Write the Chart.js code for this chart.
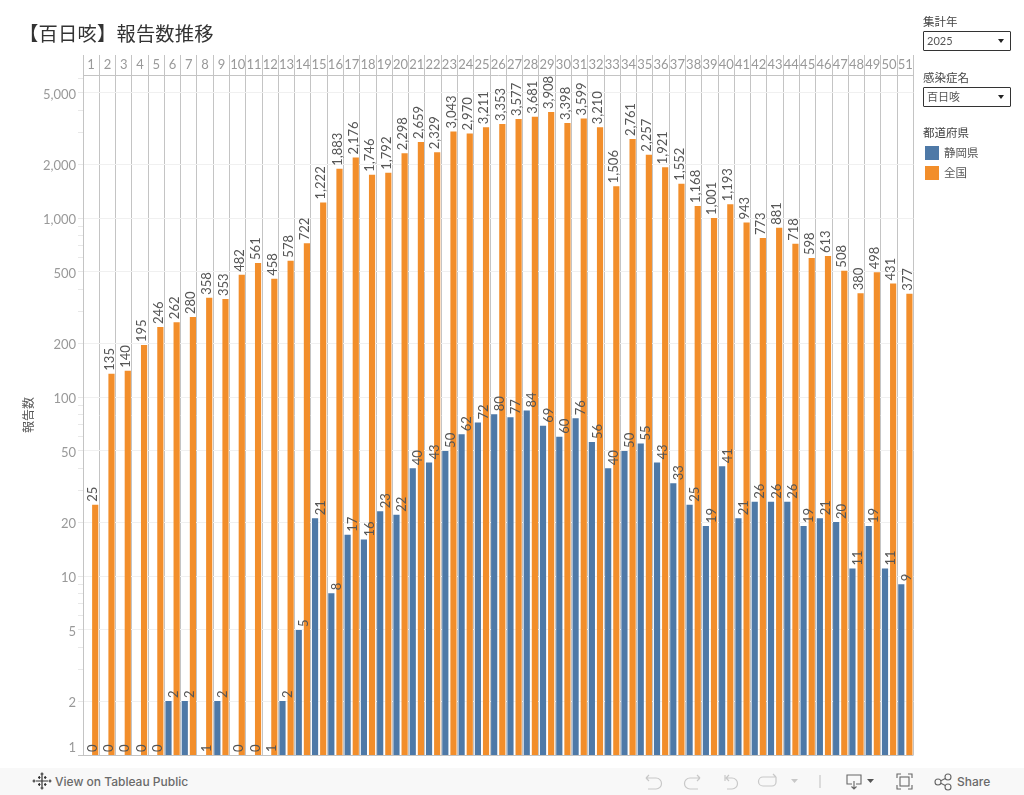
<!DOCTYPE html>
<html lang="ja">
<head>
<meta charset="utf-8">
<title>百日咳 報告数推移</title>
<script src="https://cdn.jsdelivr.net/npm/chart.js@4"></script>
<style>
html, body { margin: 0; padding: 0; background: #fff; }
body { width: 1024px; height: 795px; position: relative; overflow: hidden; font-family: "Lato", "Noto Sans CJK JP", sans-serif; }
#myCanvas { position: absolute; left: 0; top: 0; }
.txt { position: absolute; white-space: nowrap; font-family: "Lato", "Noto Sans CJK JP", sans-serif; }
#title { left: 19px; top: 20px; font-size: 19.3px; line-height: 28px; color: #333; letter-spacing: 0.2px; }
.lbl { left: 923px; font-size: 11.5px; line-height: 14px; color: #444; }
.box { position: absolute; left: 923px; width: 86px; height: 18px; border: 1px solid #333; border-radius: 1px; font-size: 11px; line-height: 18px; color: #555; text-indent: 3px; }
.box i { position: absolute; left: 74px; top: 7px; width: 0; height: 0; border-left: 3px solid transparent; border-right: 3px solid transparent; border-top: 4px solid #222; }
.sw { position: absolute; left: 925px; width: 14px; height: 14px; }
.leg { left: 944px; font-size: 11.5px; line-height: 14px; color: #555; }
#footer { position: absolute; left: 0; top: 768px; width: 1024px; height: 27px; background: #f8f8f8; }
.ft { font-family: "Inter", "Liberation Sans", sans-serif; font-size: 12px; font-weight: 500; color: #6a6a6a; line-height: 16px; top: 6px; }
#footer svg { position: absolute; left: 0; top: 0; }
</style>
</head>
<body>
<canvas id="myCanvas" width="1024" height="795"></canvas>

<div class="txt" id="title">【百日咳】報告数推移</div>

<div class="txt lbl" style="top:15px">集計年</div>
<div class="box" style="top:31px">2025<i></i></div>
<div class="txt lbl" style="top:71px">感染症名</div>
<div class="box" style="top:87px">百日咳<i></i></div>
<div class="txt lbl" style="top:126px">都道府県</div>
<div class="sw" style="top:146px;background:#4e79a7"></div>
<div class="txt leg" style="top:146px">静岡県</div>
<div class="sw" style="top:166px;background:#f28e2b"></div>
<div class="txt leg" style="top:166px">全国</div>

<div id="footer">
<svg width="1024" height="27" fill="none">
  <g stroke="#333" stroke-width="1.200">
    <path d="M42 7v12M36 13h12M38 9.500h2.500M39.300 8v3M44 9.500h2.500M45.200 8v3M38 16.500h2.500M39.300 15v3M44 16.500h2.500M45.200 15v3M42 4.500v3M40.500 6h3M42 18.500v3M40.500 20h3M34 11.500v3M32.500 13h3M50 11.500v3M48.500 13h3"/>
  </g>
  <g stroke="#c8c8c8" stroke-width="1.200">
    <path d="M646 10h10a5 5 0 0 1 0 11h-8M646 10l3-3M646 10l3 3"/>
    <path d="M700 10h-10a5 5 0 0 0 0 11h8M700 10l-3-3M700 10l-3 3"/>
    <path d="M726 10h6a5 5 0 0 1 0 11h-5M726 10l3-3M726 10l3 3M725 7v6"/>
    <path d="M776 9h-13a4 4 0 0 0 0 9h9a4 4 0 0 0 4-4V9M776 9l-3-3"/>
    <path d="M820 7v13"/>
  </g>
  <path d="M791 11h7l-3.500 4z" fill="#c8c8c8"/>
  <g stroke="#666" stroke-width="1.100">
    <path d="M852 16h-5v-9h14v9h-5M854 13v8M851.500 18.500l2.500 2.500 2.500-2.500"/>
    <path d="M897 10V6h4M908 6h4v4M912 17v4h-4M901 21h-4v-4"/>
    <rect x="900" y="9" width="9" height="9"/>
    <circle cx="938" cy="14" r="3"/><circle cx="948" cy="9" r="3"/><circle cx="948" cy="19" r="3"/>
    <path d="M940.800 12.700l4.500-2.300M940.800 15.300l4.500 2.300"/>
  </g>
  <path d="M867 11h7l-3.500 4z" fill="#555"/>
</svg>
<div class="txt ft" style="left:55px">View on Tableau Public</div>
<div class="txt ft" style="left:957px">Share</div>
</div>

<script>
// week numbers along the top
var weeks = ['1','2','3','4','5','6','7','8','9','10','11','12','13','14','15','16','17','18','19','20','21','22','23','24','25','26','27','28','29','30','31','32','33','34','35','36','37','38','39','40','41','42','43','44','45','46','47','48','49','50','51'];

var shizuoka = [0,0,0,0,0,2,2,1,2,0,0,1,2,5,21,8,17,16,23,22,40,43,50,62,72,80,77,84,69,60,76,56,40,50,55,43,33,25,19,41,21,26,26,26,19,21,20,11,19,11,9];
var national = [25,135,140,195,246,262,280,358,353,482,561,458,578,722,1222,1883,2176,1746,1792,2298,2659,2329,3043,2970,3211,3353,3577,3681,3908,3398,3599,3210,1506,2761,2257,1921,1552,1168,1001,1193,943,773,881,718,598,613,508,380,498,431,377];

// labelled ticks on the log axis, and the small unlabelled ones between them
var major_ticks = [1,2,5,10,20,50,100,200,500,1000,2000,5000];
var minor_ticks = [3,4,6,7,8,9,30,40,60,70,80,90,300,400,600,700,800,900,3000,4000,6000];

var blue = '#4e79a7';
var orange = '#f28e2b';
var line_grey = '#c4c4c4';

// draws the rotated value above each bar, tableau style
const barLabels = {
    id: 'barLabels',
    afterDatasetsDraw(chart) {
        const ctx = chart.ctx;
        const yScale = chart.scales.y;
        ctx.save();
        ctx.font = '13px Lato';
        ctx.fillStyle = '#555';
        ctx.textAlign = 'left';
        ctx.textBaseline = 'middle';
        chart.data.datasets.forEach(function (ds, d) {
            const meta = chart.getDatasetMeta(d);
            ds.data.forEach(function (val, i) {
                const bar_x = meta.data[i].x;
                const x = d == 0 ? bar_x + 5.5 : bar_x - 2;
                const y = yScale.getPixelForValue(val < 1 ? 1 : val);
                ctx.save();
                ctx.translate(x, y - 3);
                ctx.rotate(-Math.PI / 2);
                ctx.fillText(val.toLocaleString('en-US'), 0, 0);
                ctx.restore();
            });
        });
        ctx.restore();
    }
};

var myChart = new Chart(document.getElementById('myCanvas'), {
    type: 'bar',
    data: {
        labels: weeks,
        datasets: [
            { label: '静岡県', data: shizuoka, backgroundColor: blue },
            { label: '全国', data: national, backgroundColor: orange }
        ]
    },
    plugins: [barLabels],
    options: {
        responsive: false,
        animation: false,
        layout: { padding: { top: 55, bottom: 40, right: 110.5, left: 0 } },
        categoryPercentage: 1,
        barPercentage: 0.76,
        plugins: { legend: { display: false }, title: { display: false }, tooltip: { enabled: false } },
        scales: {
            x: {
                position: 'top',
                offset: true,
                afterFit: function (scale) { scale.height = 20; },
                grid: { color: line_grey, tickColor: line_grey, tickLength: 20, offset: true, lineWidth: 1 },
                border: { display: true, color: line_grey },
                ticks: { autoSkip: false, maxRotation: 0, padding: -18, color: '#999', font: { family: 'Lato', size: 13 } }
            },
            y: {
                type: 'logarithmic',
                min: 1,
                max: 6295,
                afterFit: function (scale) { scale.width = 83; },
                afterBuildTicks: function (scale) {
                    scale.ticks = major_ticks.concat(minor_ticks).sort(function (a, b) { return a - b; }).map(function (v) {
                        return { value: v, major: major_ticks.indexOf(v) >= 0 };
                    });
                },
                title: { display: true, text: '報告数', color: '#555', font: { family: 'Noto Sans CJK JP', size: 12 }, padding: { top: 21, bottom: 0 } },
                grid: {
                    tickLength: 5,
                    color: function (c) {
                        if (c.tick.value == 1) return line_grey;
                        return c.tick.major ? '#f0f0f0' : 'rgba(0,0,0,0)';
                    },
                    tickColor: function (c) { return c.tick.value == 1 ? line_grey : '#e8e8e8'; }
                },
                border: { display: true, color: line_grey },
                ticks: {
                    autoSkip: false,
                    padding: 2,
                    color: '#999',
                    font: { family: 'Lato', size: 13, lineHeight: '3px' },
                    callback: function (v) {
                        if (major_ticks.indexOf(v) < 0) return '';
                        // bottom label sits above the axis line, the rest a touch below their grid line
                        if (v == 1) return ['1', '', '', '', '', ''];
                        return ['', v.toLocaleString('en-US')];
                    }
                }
            }
        }
    }
});
</script>
</body>
</html>
